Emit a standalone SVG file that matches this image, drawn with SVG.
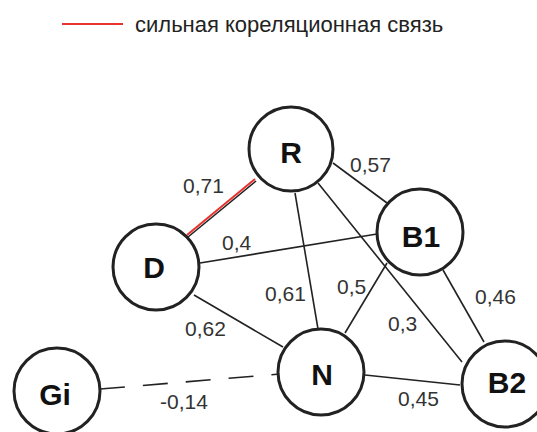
<svg xmlns="http://www.w3.org/2000/svg" width="537" height="432" viewBox="0 0 537 432">
<style>
.node circle{fill:#fff;stroke:#222;stroke-width:3}
.node text{font-family:"Liberation Sans",Arial,sans-serif;font-weight:bold;font-size:30px;fill:#111;text-anchor:middle}
.edge{stroke:#222;stroke-width:1.6;fill:none}
.lbl{font-family:"Liberation Sans",Arial,sans-serif;font-size:21px;fill:#333}
</style>
<rect width="537" height="432" fill="#fff"/>
<g id="legend">
<line x1="62" y1="24" x2="123" y2="24" stroke="#e8322d" stroke-width="2"/>
<text x="135" y="32" font-family="Liberation Sans, Arial, sans-serif" font-size="22" fill="#222">сильная кореляционная связь</text>
</g>
<g id="connectors">
<line class="edge" x1="188" y1="237" x2="256" y2="181"/>
<line x1="187" y1="235" x2="255" y2="179" stroke="#e8322d" stroke-width="2"/>
<line class="edge" x1="200" y1="263" x2="377" y2="234"/>
<line class="edge" x1="295" y1="193" x2="318" y2="329"/>
<line class="edge" x1="333" y1="163" x2="387" y2="203"/>
<line class="edge" x1="318" y1="183" x2="462" y2="362"/>
<line class="edge" x1="387" y1="263" x2="345" y2="333"/>
<line class="edge" x1="443" y1="270" x2="484" y2="342"/>
<line class="edge" x1="365" y1="375" x2="460" y2="385"/>
<line class="edge" x1="194" y1="295" x2="283" y2="347"/>
<line class="edge" x1="100" y1="389" x2="280" y2="374" stroke-dasharray="25 18"/>
<text class="lbl" x="183" y="193">0,71</text>
<text class="lbl" x="222" y="250">0,4</text>
<text class="lbl" x="265" y="301">0,61</text>
<text class="lbl" x="350" y="172">0,57</text>
<text class="lbl" x="388" y="331">0,3</text>
<text class="lbl" x="337" y="294">0,5</text>
<text class="lbl" x="475" y="304">0,46</text>
<text class="lbl" x="398" y="406">0,45</text>
<text class="lbl" x="185" y="336">0,62</text>
<text class="lbl" x="160" y="409">-0,14</text>
</g>
<g id="node-R" class="node"><circle cx="291" cy="149" r="42"/><text x="291" y="163">R</text></g>
<g id="node-D" class="node"><circle cx="156" cy="267" r="43"/><text x="154" y="278">D</text></g>
<g id="node-B1" class="node"><circle cx="420" cy="232" r="43"/><text x="421" y="247">B1</text></g>
<g id="node-N" class="node"><circle cx="321" cy="372" r="43"/><text x="322" y="385">N</text></g>
<g id="node-B2" class="node"><circle cx="505" cy="384" r="43"/><text x="507" y="393">B2</text></g>
<g id="node-Gi" class="node"><circle cx="57" cy="391" r="43"/><text x="55" y="405">Gi</text></g>
</svg>
